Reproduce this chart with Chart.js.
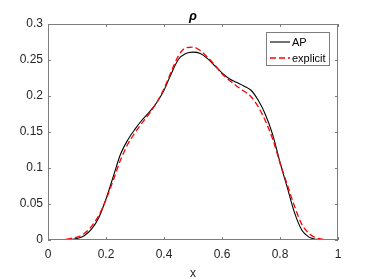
<!DOCTYPE html>
<html>
<head>
<meta charset="utf-8">
<script src="https://cdn.jsdelivr.net/npm/chart.js@4"></script>
<style>
  html, body { margin: 0; padding: 0; background: #fff; }
  #wrap { width: 374px; height: 280px; }
</style>
</head>
<body>
<div id="wrap"><canvas id="rhoChart" width="374" height="280"></canvas></div>
<script>
const xs = [0, 0.025, 0.05, 0.075, 0.1, 0.125, 0.15, 0.175, 0.2, 0.225,
  0.25, 0.275, 0.3, 0.325, 0.35, 0.375, 0.4, 0.425, 0.45, 0.475,
  0.5, 0.525, 0.55, 0.575, 0.6, 0.625, 0.65, 0.675, 0.7, 0.725,
  0.75, 0.775, 0.8, 0.825, 0.85, 0.875, 0.9, 0.925, 0.95, 0.975, 1];

const apValues = [0, 0, 0, 0.0005, 0.002, 0.006, 0.015, 0.031, 0.057, 0.088,
  0.119, 0.139, 0.154, 0.167, 0.178, 0.191, 0.208, 0.231, 0.251, 0.259,
  0.261, 0.259, 0.252, 0.242, 0.232, 0.224, 0.219, 0.214, 0.208, 0.194,
  0.174, 0.146, 0.108, 0.073, 0.038, 0.014, 0.004, 0.001, 0, 0, 0];

const explicitValues = [0, 0, 0.0005, 0.002, 0.004, 0.009, 0.019, 0.034, 0.056, 0.083,
  0.111, 0.133, 0.149, 0.163, 0.176, 0.191, 0.210, 0.234, 0.256, 0.267,
  0.268, 0.263, 0.254, 0.243, 0.231, 0.222, 0.214, 0.207, 0.199, 0.185,
  0.165, 0.140, 0.107, 0.077, 0.047, 0.022, 0.009, 0.003, 0.001, 0, 0];

const xTicks = [0, 0.2, 0.4, 0.6, 0.8, 1];
const yTicks = [0, 0.05, 0.1, 0.15, 0.2, 0.25, 0.3];
const seriesNames = ['AP', 'explicit'];

const axisColor = '#262626';
const boxColor = '#7d7d7d';
const font = 'Liberation Sans, Arial, Helvetica, sans-serif';

function toPoints(vals) {
  return xs.map((x, i) => ({ x: x, y: vals[i] }));
}

// box, inward ticks, title and legend the MATLAB way
const matlabAxes = {
  id: 'matlabAxes',
  afterDraw(chart) {
    const ctx = chart.ctx;
    const a = chart.chartArea;
    const sx = chart.scales.x;
    const sy = chart.scales.y;
    ctx.save();
    ctx.strokeStyle = boxColor;
    ctx.lineWidth = 1;
    ctx.strokeRect(a.left + 0.5, a.top + 0.5, a.right - a.left - 1, a.bottom - a.top - 1);
    ctx.beginPath();
    xTicks.forEach(t => {
      const px = Math.round(sx.getPixelForValue(t)) + 0.5;
      ctx.moveTo(px, a.bottom); ctx.lineTo(px, a.bottom - 3);
      ctx.moveTo(px, a.top); ctx.lineTo(px, a.top + 3);
    });
    yTicks.forEach(t => {
      const py = Math.round(sy.getPixelForValue(t)) + 0.5;
      ctx.moveTo(a.left, py); ctx.lineTo(a.left + 3, py);
      ctx.moveTo(a.right, py); ctx.lineTo(a.right - 3, py);
    });
    ctx.stroke();

    // title
    ctx.fillStyle = '#000';
    ctx.font = 'italic bold 13px ' + font;
    ctx.textAlign = 'center';
    ctx.textBaseline = 'middle';
    ctx.fillText('ρ', (a.left + a.right) / 2, 16);

    // legend
    const lx = 266.5, ly = 32.5, lw = 63, lh = 33;
    ctx.fillStyle = '#fff';
    ctx.fillRect(lx, ly, lw, lh);
    ctx.strokeStyle = boxColor;
    ctx.strokeRect(lx, ly, lw, lh);
    const rows = [
      { name: seriesNames[0], color: '#000', dash: [], y: 42 },
      { name: seriesNames[1], color: '#ff0000', dash: [6, 3], y: 58 }
    ];
    ctx.font = '11px ' + font;
    ctx.textAlign = 'left';
    rows.forEach(r => {
      ctx.beginPath();
      ctx.setLineDash(r.dash);
      ctx.strokeStyle = r.color;
      ctx.lineWidth = r.dash.length ? 1.3 : 1.1;
      ctx.moveTo(270, r.y); ctx.lineTo(290, r.y);
      ctx.stroke();
      ctx.setLineDash([]);
      ctx.fillStyle = '#000';
      ctx.fillText(r.name, 292, r.y + 0.5);
    });
    ctx.restore();
  }
};

new Chart(document.getElementById('rhoChart'), {
  type: 'line',
  data: {
    datasets: [
      {
        label: seriesNames[0],
        data: toPoints(apValues),
        borderColor: '#000',
        borderWidth: 1.1,
        pointRadius: 0,
        cubicInterpolationMode: 'monotone',
        order: 2
      },
      {
        label: seriesNames[1],
        data: toPoints(explicitValues),
        borderColor: '#ff0000',
        borderWidth: 1.3,
        borderDash: [6, 3],
        pointRadius: 0,
        cubicInterpolationMode: 'monotone',
        order: 1
      }
    ]
  },
  options: {
    responsive: false,
    animation: false,
    layout: { padding: { left: 0, right: 36, top: 24, bottom: 0 } },
    plugins: {
      legend: { display: false },
      tooltip: { enabled: false },
      title: { display: false }
    },
    scales: {
      x: {
        type: 'linear',
        min: 0,
        max: 1,
        grid: { display: false, drawTicks: false },
        border: { display: false },
        afterBuildTicks: s => { s.ticks = xTicks.map(v => ({ value: v })); },
        afterFit: s => { s.height = 40; },
        ticks: {
          color: axisColor,
          font: { family: font, size: 12 },
          padding: 7,
          maxRotation: 0,
          callback: v => String(v)
        },
        title: {
          display: true,
          text: 'x',
          color: axisColor,
          font: { family: font, size: 12 },
          padding: { top: 0, bottom: -1 }
        }
      },
      y: {
        min: 0,
        max: 0.3,
        grid: { display: false, drawTicks: false },
        border: { display: false },
        afterBuildTicks: s => { s.ticks = yTicks.map(v => ({ value: v })); },
        afterFit: s => { s.width = 48; },
        ticks: {
          color: axisColor,
          font: { family: font, size: 12 },
          padding: 5,
          callback: v => String(+v.toFixed(2))
        }
      }
    }
  },
  plugins: [matlabAxes]
});
</script>
</body>
</html>
